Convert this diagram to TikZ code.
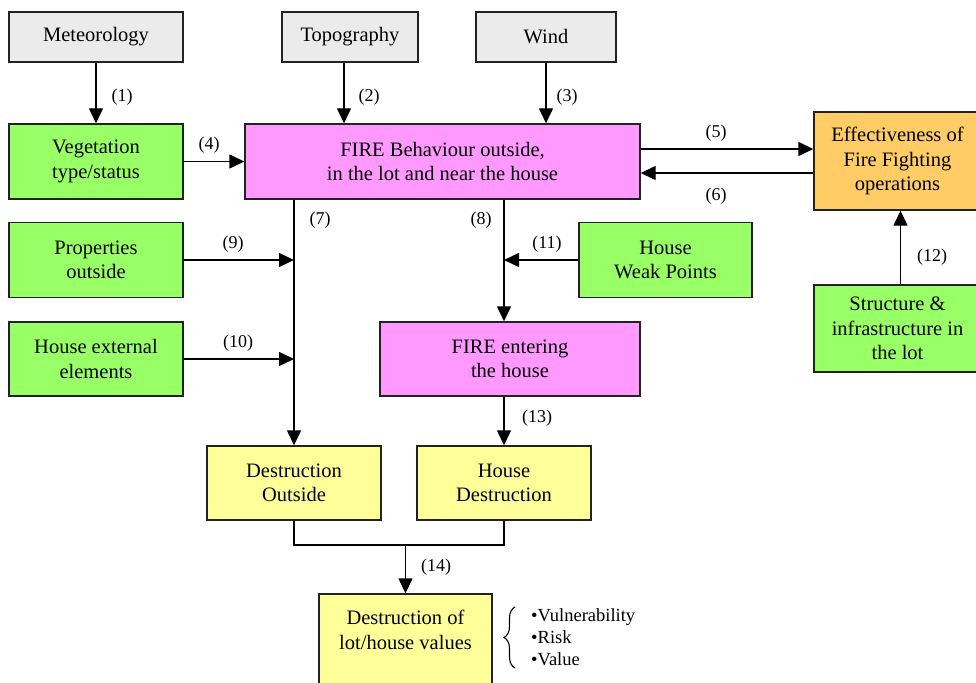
\documentclass[tikz,border=0pt]{standalone}
\usepackage{fontspec}
\setmainfont{Liberation Serif}
\usetikzlibrary{arrows.meta,decorations.pathreplacing}
\definecolor{cgray}{HTML}{EBEBEB}
\definecolor{cgreen}{HTML}{99FF66}
\definecolor{cpink}{HTML}{FF99FF}
\definecolor{corange}{HTML}{FFCC66}
\definecolor{cyellow}{HTML}{FFFF99}
\definecolor{cborder}{HTML}{222222}
\tikzset{
  box/.style={draw=cborder, line width=1.4pt, align=center, inner sep=0pt,
    font=\fontsize{20.5}{24.5}\selectfont},
  graybox/.style={box, fill=cgray},
  greenbox/.style={box, fill=cgreen},
  pinkbox/.style={box, fill=cpink},
  orangebox/.style={box, fill=corange},
  yellowbox/.style={box, fill=cyellow},
  arr/.style={line width=1.4pt, -{Triangle[length=15pt,width=14pt]}},
  ln/.style={line width=1.4pt},
  lab/.style={font=\fontsize{18}{21}\selectfont, inner sep=0pt},
}
\begin{document}
\begin{tikzpicture}[x=1pt,y=-1pt]
\useasboundingbox (0,0) rectangle (976,682);
% boxes
\node[graybox, minimum width=174pt, minimum height=50pt] (met) at (96,37) {Meteorology};
\node[graybox, minimum width=136pt, minimum height=50pt] (topo) at (350,37) {Topography};
\node[graybox, minimum width=140pt, minimum height=50pt] (wind) at (546,37) {Wind};
\node[greenbox, minimum width=174pt, minimum height=75pt] (veg) at (96,161.5) {Vegetation\\type/status};
\node[pinkbox, minimum width=395pt, minimum height=75pt] (fire) at (442.5,161.5) {FIRE Behaviour outside,\\in the lot and near the house};
\node[orangebox, minimum width=167pt, minimum height=98pt] (eff) at (897.5,161) {Effectiveness of\\Fire Fighting\\operations};
\node[greenbox, minimum width=174pt, minimum height=75pt] (prop) at (96,260) {Properties\\outside};
\node[greenbox, minimum width=174pt, minimum height=74pt] (hext) at (96,359) {House external\\elements};
\node[greenbox, minimum width=173pt, minimum height=75pt] (weak) at (665.5,260) {House\\Weak Points};
\node[pinkbox, minimum width=260pt, minimum height=74pt] (fent) at (510,359) {FIRE entering\\the house};
\node[greenbox, minimum width=167pt, minimum height=87pt] (struct) at (897.5,328.5) {Structure \&\\infrastructure in\\the lot};
\node[yellowbox, minimum width=174pt, minimum height=74pt] (dout) at (294,483) {Destruction\\Outside};
\node[yellowbox, minimum width=174pt, minimum height=74pt] (hdes) at (504,483) {House\\Destruction};
\node[yellowbox, minimum width=173pt, minimum height=106pt] (dval) at (405.5,647) {};
\node[box, draw=none, fill=none] (dvaltext) at (405.5,630) {Destruction of\\lot/house values};
% connectors
\draw[arr] (met.south) -- (veg.north);
\draw[arr] ([xshift=-6pt]topo.south) -- ([xshift=-6pt]topo.south |- fire.north);
\draw[arr] (wind.south) -- (wind.south |- fire.north);
\draw[arr] (veg.east) -- (fire.west);
\draw[arr] ([yshift=12.5pt]fire.east) -- ([yshift=12.5pt]fire.east -| eff.west);
\draw[arr] ([yshift=-12pt]eff.west) -- ([yshift=-12pt]eff.west -| fire.east);
\draw[arr] (fire.south -| dout.north) -- (dout.north);
\draw[arr] (prop.east) -- (prop.east -| dout.north);
\draw[arr] (hext.east) -- (hext.east -| dout.north);
\draw[arr] (fire.south -| hdes.north) -- (fent.north -| hdes.north);
\draw[arr] (weak.west) -- (weak.west -| hdes.north);
\draw[arr] ([xshift=3pt]struct.north) -- ([xshift=3pt]struct.north |- eff.south);
\draw[arr] (fent.south -| hdes.north) -- (hdes.north);
\coordinate (join) at (405.5,545);
\draw[ln] (dout.south) |- (join) -| (hdes.south);
\draw[arr] (join) -- (dval.north);
% labels
\node[lab] (l1) at (122,97) {(1)};
\node[lab] (l2) at (369,97) {(2)};
\node[lab] (l3) at (567,97) {(3)};
\node[lab] (l4) at (209,145) {(4)};
\node[lab] (l5) at (716,133) {(5)};
\node[lab] (l6) at (716,196) {(6)};
\node[lab] (l7) at (320,220) {(7)};
\node[lab] (l8) at (481,220) {(8)};
\node[lab] (l9) at (233,244) {(9)};
\node[lab] (l10) at (238,343) {(10)};
\node[lab] (l11) at (547,244) {(11)};
\node[lab] (l12) at (932,257) {(12)};
\node[lab] (l13) at (537,418) {(13)};
\node[lab] (l14) at (436,567) {(14)};
% brace and list
\draw[line width=1.1pt, decorate, decoration={brace, amplitude=11pt, aspect=0.5}] (515,668) -- (515,607);
\node[lab, align=left, anchor=north west, font=\fontsize{18.5}{22}\selectfont] (list) at (531,608) {•Vulnerability\\•Risk\\•Value};
\end{tikzpicture}
\end{document}
